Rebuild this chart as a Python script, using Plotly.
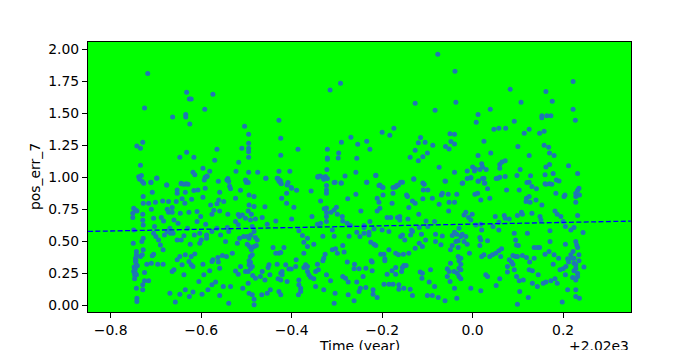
import plotly.graph_objects as go

# Time offsets (years relative to 2020) and pos_err_7 values
T0 = 2020
upper_points = [
    (-0.718,1.81),(-0.725,1.54),(-0.742,1.245),(-0.734,1.227),(-0.729,1.274),(-0.734,1.094),(-0.738,1.005),
    (-0.736,0.985),(-0.732,1.015),(-0.711,0.96),(-0.698,0.995),(-0.676,0.94),(-0.663,1.47),(-0.647,1.157),
    (-0.632,1.663),(-0.634,1.49),(-0.634,1.47),(-0.626,1.61),(-0.622,1.61),(-0.625,1.415),(-0.632,1.195),
    (-0.644,0.95),(-0.633,0.95),(-0.616,1.157),(-0.618,1.04),(-0.614,1.02),(-0.596,1.07),(-0.592,1.53),
    (-0.591,1.0),(-0.587,1.01),(-0.581,1.047),(-0.574,1.647),(-0.565,1.219),(-0.57,1.133),(-0.562,0.97),
    (-0.541,0.99),(-0.537,0.93),(-0.523,1.047),(-0.517,1.118),(-0.51,1.227),(-0.504,1.398),(-0.495,1.336),
    (-0.495,1.265),(-0.495,1.227),(-0.495,1.2),(-0.495,1.157),(-0.501,0.975),(-0.495,1.04),(-0.5,0.96),
    (-0.475,1.04),(-0.457,0.993),(-0.428,1.445),(-0.424,1.305),(-0.424,1.172),(-0.428,1.047),(-0.43,0.99),
    (-0.425,0.975),(-0.423,0.95),(-0.404,1.047),(-0.401,0.92),(-0.386,1.219),(-0.342,1.0),(-0.337,1.01),
    (-0.331,1.0),(-0.329,0.985),(-0.321,1.219),(-0.321,1.15),(-0.321,1.14),(-0.322,1.06),(-0.315,1.68),
    (-0.292,1.733),(-0.296,1.19),(-0.297,1.15),(-0.29,1.274),(-0.306,0.96),(-0.291,0.955),(-0.282,1.01),
    (-0.269,1.312),
    (-0.254,1.258),(-0.234,1.281),(-0.227,1.219),(-0.256,1.149),(-0.258,1.04),(-0.234,0.962),(-0.214,1.016),
    (-0.205,0.94),(-0.2,0.925),(-0.2,1.351),(-0.183,1.328),(-0.174,1.383),(-0.17,0.925),(-0.164,0.94),
    (-0.155,0.962),(-0.127,1.578),(-0.138,1.157),(-0.127,1.211),(-0.12,1.27),(-0.115,1.31),(-0.105,1.274),
    (-0.12,1.13),(-0.11,1.16),(-0.1,1.19),(-0.13,0.985),(-0.11,0.955),(-0.077,1.96),(-0.083,1.523),
    (-0.088,1.25),(-0.074,1.078),(-0.06,0.97),(-0.06,1.24),(-0.052,1.22),(-0.05,1.34),(-0.04,1.335),
    (-0.048,1.28),(-0.04,1.26),(-0.039,1.827),(-0.037,1.585),(-0.04,1.04),(-0.022,0.955),(-0.012,1.05),
    (-0.012,0.99),(-0.004,0.995),(0.0,1.08),(0.004,1.05),(0.006,1.065),(0.008,1.43),(0.012,1.49),
    (0.012,1.17),(0.012,0.97),(0.02,1.105),(0.022,1.08),(0.016,1.06),(0.022,0.99),(0.026,0.955),(0.03,1.06),
    (0.025,1.281),(0.04,1.19),(0.039,1.53),(0.047,1.375),(0.052,0.99),(0.058,1.383),(0.073,1.383),
    (0.083,1.687),(0.092,1.437),(0.06,1.1),(0.065,1.12),(0.072,1.13),(0.06,1.07),(0.06,1.0),(0.1,1.24),
    (0.107,1.585),(0.114,1.344),(0.125,1.375),(0.105,1.06),(0.098,1.015),(0.12,0.96),(0.128,1.013),
    (0.125,1.17),(0.148,1.344),(0.153,1.48),(0.153,1.465),(0.164,1.48),(0.173,1.48),(0.162,1.67),
    (0.158,1.36),(0.176,1.593),(0.158,1.25),(0.168,1.235),(0.17,1.19),(0.18,1.17),(0.162,1.08),(0.17,1.1),
    (0.16,1.02),(0.178,1.03),(0.16,0.95),(0.17,0.95),(0.185,0.98),(0.222,1.748),(0.222,1.53),(0.227,1.445),
    (0.212,1.09),(0.232,1.03),(0.232,0.9),
]
lower_left_points = [
    (-0.736,0.993),(-0.73,0.967),(-0.727,0.954),(-0.711,0.962),(-0.698,0.993),(-0.676,0.941),(-0.653,0.902),
    (-0.653,0.876),(-0.644,0.954),(-0.638,0.946),(-0.629,0.946),(-0.635,0.884),(-0.616,0.897),(-0.607,0.902),
    (-0.593,0.98),(-0.587,1.006),(-0.591,0.915),(-0.596,0.845),(-0.621,0.829),(-0.642,0.832),(-0.655,0.811),
    (-0.636,0.798),(-0.559,0.884),(-0.561,0.824),(-0.565,0.793),(-0.55,0.811),(-0.543,0.98),(-0.539,0.967),
    (-0.535,0.91),(-0.541,0.712),(-0.559,0.738),(-0.579,0.785),(-0.572,0.744),(-0.576,0.712),(-0.728,0.85),
    (-0.728,0.798),(-0.716,0.798),(-0.701,0.806),(-0.685,0.816),(-0.672,0.811),(-0.708,0.884),(-0.675,0.751),
    (-0.749,0.759),(-0.745,0.746),(-0.742,0.738),(-0.751,0.72),(-0.751,0.686),(-0.729,0.712),(-0.729,0.666),
    (-0.71,0.751),(-0.705,0.681),(-0.688,0.686),(-0.683,0.66),(-0.672,0.728),(-0.664,0.764),(-0.664,0.728),
    (-0.66,0.668),(-0.651,0.642),(-0.646,0.72),(-0.627,0.728),(-0.609,0.733),(-0.601,0.694),(-0.609,0.655),
    (-0.59,0.635),(-0.63,0.603),(-0.669,0.603),(-0.675,0.577),(-0.681,0.551),(-0.668,0.564),(-0.662,0.564),
    (-0.703,0.616),(-0.705,0.564),(-0.7,0.538),(-0.694,0.512),(-0.69,0.473),(-0.728,0.629),(-0.728,0.525),
    (-0.731,0.5),(-0.749,0.59),(-0.75,0.486),(-0.684,0.435),(-0.653,0.512),(-0.644,0.512),(-0.638,0.544),
    (-0.624,0.479),(-0.615,0.551),(-0.603,0.564),(-0.6,0.512),(-0.603,0.486),(-0.588,0.551),(-0.588,0.525),
    (-0.576,0.577),(-0.565,0.603),(-0.557,0.551),(-0.542,0.608),(-0.539,0.577),(-0.546,0.5),(-0.531,0.409),
    (-0.553,0.391),(-0.544,0.383),(-0.563,0.375),(-0.574,0.357),(-0.562,0.339),(-0.559,0.292),(-0.596,0.323),
    (-0.614,0.403),(-0.622,0.383),(-0.635,0.396),(-0.647,0.383),(-0.653,0.357),(-0.627,0.344),(-0.622,0.318),
    (-0.618,0.305),(-0.642,0.318),(-0.66,0.279),(-0.664,0.266),(-0.638,0.24),(-0.684,0.323),(-0.696,0.323),
    (-0.71,0.331),(-0.708,0.388),(-0.705,0.401),(-0.728,0.435),(-0.743,0.422),(-0.743,0.396),(-0.745,0.37),
    (-0.745,0.344),(-0.743,0.318),(-0.746,0.292),(-0.749,0.266),(-0.747,0.24),(-0.743,0.24),(-0.734,0.383),
    (-0.73,0.396),(-0.725,0.258),(-0.72,0.323),(-0.725,0.193),(-0.729,0.162),(-0.729,0.123),(-0.716,0.193),
    (-0.743,0.136),(-0.742,0.058),(-0.742,0.032),(-0.669,0.097),(-0.657,0.027),(-0.647,0.089),(-0.635,0.123),
    (-0.626,0.071),(-0.618,0.105),(-0.605,0.188),(-0.598,0.089),(-0.585,0.123),(-0.576,0.162),(-0.568,0.183),
    (-0.559,0.079),(-0.551,0.149),(-0.539,0.019),(-0.535,0.149),(-0.581,0.271),(-0.594,0.24),(-0.576,0.344),
    (-0.748,0.30),(-0.746,0.28),(-0.744,0.35),(-0.747,0.21),(-0.745,0.25),(-0.741,0.31),
]
lower_mid_points = [
    (-0.502,0.98),(-0.496,0.96),(-0.513,0.9),(-0.457,0.993),(-0.432,0.993),(-0.428,0.97),(-0.424,0.955),
    (-0.408,0.96),(-0.41,0.94),(-0.4,0.915),(-0.389,0.9),(-0.411,0.876),(-0.422,0.837),(-0.411,0.798),
    (-0.395,0.767),(-0.357,0.894),(-0.342,1.006),(-0.325,1.006),(-0.321,0.99),(-0.323,0.936),(-0.323,0.902),
    (-0.323,0.876),(-0.323,0.76),(-0.323,0.725),(-0.323,0.694),(-0.323,0.655),(-0.304,0.962),(-0.29,0.955),
    (-0.276,0.832),(-0.336,0.816),(-0.328,0.754),(-0.306,0.746),(-0.301,0.767),(-0.299,0.712),(-0.313,0.728),
    (-0.288,0.694),(-0.287,0.66),(-0.277,0.642),(-0.355,0.694),(-0.343,0.635),(-0.336,0.642),(-0.331,0.54),
    (-0.31,0.59),(-0.306,0.54),(-0.4,0.676),(-0.435,0.66),(-0.454,0.635),(-0.465,0.686),(-0.459,0.77),
    (-0.483,0.772),(-0.494,0.785),(-0.496,0.738),(-0.489,0.712),(-0.48,0.676),(-0.518,0.71),(-0.515,0.694),
    (-0.509,0.707),(-0.502,0.68),(-0.491,0.668),(-0.524,0.655),(-0.518,0.63),(-0.494,0.863),(-0.483,0.85),
    (-0.524,0.837),(-0.487,0.616),(-0.483,0.577),(-0.49,0.551),(-0.494,0.525),(-0.498,0.538),(-0.506,0.538),
    (-0.515,0.525),(-0.52,0.486),(-0.48,0.53),(-0.476,0.512),(-0.498,0.479),(-0.493,0.46),(-0.483,0.46),
    (-0.478,0.468),(-0.489,0.435),(-0.487,0.396),(-0.491,0.383),(-0.494,0.349),(-0.491,0.338),(-0.494,0.318),
    (-0.487,0.305),(-0.491,0.287),(-0.502,0.266),(-0.496,0.266),(-0.513,0.305),(-0.518,0.245),(-0.486,0.235),
    (-0.48,0.214),(-0.496,0.175),(-0.508,0.136),(-0.494,0.097),(-0.487,0.084),(-0.483,0.05),(-0.483,0.006),
    (-0.466,0.084),(-0.454,0.097),(-0.447,0.123),(-0.465,0.266),(-0.469,0.227),(-0.45,0.318),(-0.452,0.297),
    (-0.448,0.24),(-0.459,0.2),(-0.432,0.323),(-0.441,0.453),(-0.417,0.453),(-0.435,0.409),(-0.428,0.409),
    (-0.424,0.414),(-0.421,0.266),(-0.424,0.253),(-0.421,0.24),(-0.43,0.209),(-0.424,0.2),(-0.428,0.11),
    (-0.424,0.084),(-0.413,0.318),(-0.406,0.286),(-0.401,0.286),(-0.391,0.305),(-0.39,0.357),(-0.41,0.188),
    (-0.384,0.2),(-0.384,0.162),(-0.38,0.136),(-0.38,0.11),(-0.385,0.084),(-0.373,0.297),(-0.369,0.318),
    (-0.365,0.305),(-0.365,0.266),(-0.362,0.24),(-0.358,0.22),(-0.351,0.209),(-0.373,0.409),(-0.373,0.494),
    (-0.365,0.46),(-0.351,0.479),(-0.365,0.525),(-0.384,0.583),(-0.376,0.546),(-0.343,0.323),(-0.347,0.266),
    (-0.341,0.279),(-0.331,0.349),(-0.329,0.37),(-0.326,0.4),(-0.347,0.149),(-0.329,0.123),(-0.323,0.24),
    (-0.314,0.193),(-0.304,0.097),(-0.306,0.019),(-0.31,0.435),(-0.303,0.443),(-0.299,0.409),
    (-0.287,0.468),(-0.284,0.417),(-0.277,0.339),(-0.287,0.227),(-0.281,0.214),(-0.275,0.183),(-0.275,0.084),
    (-0.273,0.54),(-0.524,0.27),
]
lower_right_points = [
    (-0.214,1.014),(-0.234,0.962),(-0.258,0.868),(-0.207,0.936),(-0.198,0.92),(-0.176,0.92),(-0.168,0.936),
    (-0.159,0.962),(-0.176,0.876),(-0.211,0.837),(-0.207,0.806),(-0.198,0.863),(-0.205,0.759),(-0.211,0.738),
    (-0.178,0.798),(-0.13,0.988),(-0.146,0.863),(-0.144,0.85),(-0.133,0.816),(-0.127,0.798),(-0.141,0.764),
    (-0.107,0.946),(-0.109,0.902),(-0.099,0.902),(-0.11,0.832),(-0.089,0.837),(-0.074,0.79),(-0.061,0.972),
    (-0.069,0.863),(-0.067,0.876),(-0.054,0.868),(-0.035,0.868),(-0.052,0.806),(-0.04,0.806),(-0.053,0.738),
    (-0.023,0.954),(-0.119,0.712),(-0.189,0.686),(-0.181,0.686),(-0.166,0.686),(-0.161,0.694),(-0.161,0.668),
    (-0.143,0.676),(-0.247,0.738),(-0.227,0.655),(-0.24,0.624),(-0.24,0.608),(-0.27,0.624),(-0.218,0.598),
    (-0.2,0.59),(-0.185,0.577),(-0.256,0.572),(-0.249,0.538),(-0.24,0.564),(-0.229,0.572),(-0.229,0.551),
    (-0.225,0.494),(-0.218,0.479),(-0.214,0.468),(-0.159,0.538),(-0.155,0.551),(-0.15,0.512),(-0.135,0.59),
    (-0.133,0.577),(-0.137,0.551),(-0.118,0.608),(-0.113,0.557),(-0.099,0.616),(-0.084,0.655),(-0.103,0.66),
    (-0.082,0.557),(-0.067,0.543),(-0.082,0.5),(-0.07,0.474),(-0.118,0.486),(-0.111,0.46),(-0.127,0.447),
    (-0.104,0.512),(-0.045,0.546),(-0.04,0.572),(-0.035,0.557),(-0.03,0.603),(-0.026,0.538),(-0.023,0.557),
    (-0.037,0.5),(-0.032,0.505),(-0.045,0.468),(-0.049,0.435),(-0.032,0.453),(-0.019,0.707),(-0.019,0.5),
    (-0.032,0.383),(-0.026,0.37),(-0.03,0.349),(-0.026,0.323),(-0.03,0.292),(-0.026,0.279),(-0.034,0.253),
    (-0.03,0.227),(-0.026,0.209),(-0.041,0.266),(-0.049,0.331),(-0.056,0.287),(-0.052,0.266),(-0.04,0.136),
    (-0.035,0.058),(-0.185,0.435),(-0.203,0.401),(-0.196,0.401),(-0.194,0.365),(-0.194,0.349),(-0.222,0.339),
    (-0.224,0.349),(-0.261,0.323),(-0.262,0.287),(-0.251,0.287),(-0.236,0.292),(-0.222,0.271),(-0.242,0.227),
    (-0.256,0.183),(-0.248,0.136),(-0.251,0.11),(-0.236,0.141),(-0.22,0.123),(-0.22,0.089),(-0.211,0.063),
    (-0.262,0.037),(-0.17,0.409),(-0.164,0.396),(-0.153,0.401),(-0.141,0.409),(-0.189,0.245),(-0.17,0.297),
    (-0.17,0.245),(-0.178,0.271),(-0.155,0.297),(-0.157,0.266),(-0.152,0.313),(-0.147,0.313),(-0.196,0.167),
    (-0.185,0.167),(-0.176,0.167),(-0.163,0.162),(-0.163,0.128),(-0.152,0.136),(-0.138,0.128),(-0.133,0.079),
    (-0.116,0.261),(-0.111,0.253),(-0.112,0.214),(-0.093,0.279),(-0.096,0.183),(-0.084,0.149),(-0.1,0.079),
    (-0.089,0.079),(-0.076,0.063),(-0.061,0.037),(-0.056,0.227),(-0.05,0.188),
    (-0.004,0.998),(0.013,0.972),(0.025,0.993),(0.027,0.954),(0.033,0.91),(0.056,0.993),(0.072,1.006),
    (0.005,0.868),(0.011,0.876),(0.018,0.824),(0.038,0.837),(0.075,0.902),(0.103,0.902),(0.125,0.962),
    (0.131,0.928),(0.141,0.91),(0.119,0.837),(0.125,0.85),(0.118,0.811),(0.127,0.806),(0.14,0.824),
    (0.153,0.785),(0.162,0.946),(0.175,0.946),(0.184,0.876),(0.191,0.972),(0.204,0.863),(0.202,0.85),
    (0.228,0.876),(0.228,0.85),(0.232,0.863),(0.235,0.915),(0.228,0.806),(-0.015,0.728),(-0.001,0.712),
    (-0.009,0.686),(-0.004,0.668),(0.007,0.629),(0.018,0.635),(0.02,0.59),(0.05,0.694),(0.07,0.702),
    (0.072,0.681),(0.081,0.676),(0.058,0.65),(0.045,0.616),(0.058,0.59),(0.099,0.702),(0.108,0.728),
    (0.11,0.712),(0.131,0.72),(0.149,0.694),(0.151,0.668),(0.182,0.738),(0.187,0.712),(0.195,0.694),
    (0.2,0.655),(0.205,0.616),(0.232,0.702),(0.224,0.608),(0.217,0.59),(0.171,0.583),(0.121,0.564),
    (0.092,0.564),(-0.015,0.538),(-0.012,0.479),(0.016,0.53),(0.018,0.512),(0.016,0.468),(0.033,0.505),
    (-0.007,0.409),(0.02,0.383),(0.025,0.396),(0.038,0.383),(0.044,0.396),(0.051,0.409),(0.058,0.427),
    (0.064,0.443),(0.062,0.383),(0.095,0.512),(0.097,0.473),(0.101,0.468),(0.081,0.357),(0.086,0.339),
    (0.089,0.323),(0.077,0.305),(0.077,0.261),(0.092,0.279),(0.089,0.391),(0.095,0.383),(0.099,0.383),
    (0.11,0.391),(0.119,0.375),(0.126,0.339),(0.136,0.453),(0.143,0.453),(0.148,0.453),(0.136,0.37),
    (0.125,0.279),(0.132,0.271),(0.145,0.24),(0.16,0.401),(0.169,0.422),(0.171,0.5),(0.18,0.396),
    (0.19,0.37),(0.205,0.479),(0.178,0.323),(0.193,0.279),(0.2,0.287),(0.205,0.24),(0.206,0.305),
    (0.212,0.339),(0.21,0.365),(0.217,0.396),(0.219,0.37),(0.222,0.422),(0.224,0.37),(0.224,0.331),
    (0.228,0.318),(0.228,0.292),(0.224,0.271),(0.228,0.5),(0.23,0.473),(0.232,0.453),(0.235,0.396),
    (0.235,0.349),(0.232,0.253),(0.232,0.227),(0.221,0.219),(0.228,0.2),(0.228,0.123),(0.228,0.071),
    (0.162,0.183),(0.173,0.193),(0.182,0.209),(0.187,0.175),(0.198,0.027),(0.21,0.123),(0.143,0.149),
    (0.156,0.175),(0.132,0.175),(0.103,0.193),(0.112,0.2),(0.097,0.227),(0.104,0.11),(0.099,0.011),
    (0.052,0.157),(0.06,0.209),(0.029,0.24),(0.033,0.227),(-0.004,0.136),(0.018,0.115),(0.123,0.063),
    (0.236,0.058),(0.244,0.569),(0.246,0.30),(0.236,0.863),
]

# Linear trend line (fit) parameters
trend_intercept = 0.635   # value at offset 0 (year 2020)
trend_slope = 0.0667      # per year
x_range = [-0.85, 0.35]
y_range = [-0.05, 2.055]
x_ticks = [-0.8, -0.6, -0.4, -0.2, 0.0, 0.2]
x_tick_labels = ["\u22120.8", "\u22120.6", "\u22120.4", "\u22120.2", "0.0", "0.2"]
y_ticks = [0.0, 0.25, 0.5, 0.75, 1.0, 1.25, 1.5, 1.75, 2.0]
y_tick_labels = ["0.00", "0.25", "0.50", "0.75", "1.00", "1.25", "1.50", "1.75", "2.00"]

all_points = upper_points + lower_left_points + lower_mid_points + lower_right_points
t_offset = [p[0] for p in all_points]
pos_err = [p[1] for p in all_points]

fig = go.Figure()
fig.add_trace(go.Scatter(
    x=t_offset, y=pos_err, mode="markers",
    marker=dict(color="#1f77b4", size=5, line=dict(width=0)),
    showlegend=False, hoverinfo="skip",
))
line_x = x_range
line_y = [trend_intercept + trend_slope * v for v in line_x]
fig.add_trace(go.Scatter(
    x=line_x, y=line_y, mode="lines",
    line=dict(color="#0000ff", width=1.3, dash="5px,2.4px"),
    showlegend=False, hoverinfo="skip",
))

font = "DejaVu Sans"
axis_common = dict(
    showgrid=False, zeroline=False, showline=True, linecolor="black", linewidth=1,
    mirror=True, ticks="outside", ticklen=5, tickwidth=1, tickcolor="black",
    tickfont=dict(family=font, size=13.9, color="black"),
)
fig.update_xaxes(range=x_range, tickvals=x_ticks, ticktext=x_tick_labels, **axis_common)
fig.update_yaxes(range=y_range, tickvals=y_ticks, ticktext=y_tick_labels, **axis_common)

fig.update_layout(
    width=700, height=350,
    margin=dict(l=88, r=69, t=42, b=38),
    paper_bgcolor="white", plot_bgcolor="#00ff00",
    font=dict(family=font, color="black"),
    annotations=[
        dict(text="pos_err_7", textangle=-90, xref="paper", yref="paper",
             x=-0.0976, y=0.5, xanchor="center", yanchor="middle", showarrow=False,
             font=dict(family=font, size=13.9, color="black")),
        dict(text="Time (year)", xref="paper", yref="paper",
             x=0.5, y=-0.09, xanchor="center", yanchor="top", showarrow=False,
             font=dict(family=font, size=13.9, color="black")),
        dict(text="+2.02e3", xref="paper", yref="paper",
             x=1.0, y=-0.09, xanchor="right", yanchor="top", showarrow=False,
             font=dict(family=font, size=13.9, color="black")),
    ],
)

fig.write_html("out.html")
